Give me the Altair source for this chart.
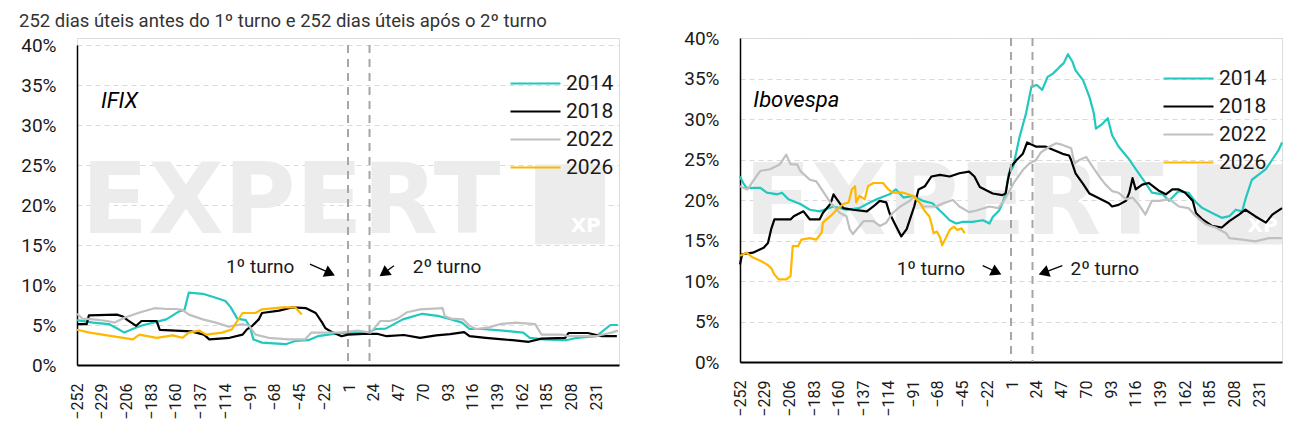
import altair as alt
import pandas as pd

# ---------------- data ----------------
years = ["2014", "2018", "2022", "2026"]
line_colors = ["#20c8be", "#000000", "#c0c0c0", "#ffb700"]
line_widths = [2.2, 2.2, 2.2, 3.5]

x_ticks = [-252, -229, -206, -183, -160, -137, -114, -91, -68, -45, -22,
           1, 24, 47, 70, 93, 116, 139, 162, 185, 208, 231]
y_ticks = [0, 5, 10, 15, 20, 25, 30, 35, 40]
turn_days = [0, 20]

subtitle = "252 dias úteis antes do 1º turno e 252 dias úteis após o 2º turno"

# IFIX
ifix_2014_x = [-252, -237, -230, -222, -215, -208, -197, -190, -181, -169, -157, -152,
               -148, -135, -123, -114, -109, -103, -95, -91, -88, -80, -58, -49,
               -37, -28, -18, -10, 19, 26, 35, 51, 69, 85, 96, 106, 113, 125, 144, 163,
               169, 182, 203, 213, 231, 244, 251]
ifix_2014_y = [5.6, 5.3, 5.2, 5.1, 4.6, 4.05, 4.7, 5.0, 5.3, 5.7, 6.7, 6.9,
               9.05, 8.9, 8.4, 8.0, 7.2, 5.8, 5.6, 4.7, 3.2, 2.8, 2.6, 3.0,
               3.1, 3.6, 3.8, 3.95, 4.1, 4.5, 4.55, 5.7, 6.4, 6.1, 5.7, 5.3, 4.5, 4.5, 4.3, 4.05,
               3.4, 3.2, 3.1, 3.4, 3.6, 5.0, 5.0]

ifix_2018_x = [-252, -243, -241, -215, -210, -205, -197, -192, -178, -175, -146, -134,
               -129, -110, -98, -94, -89, -83, -80, -64, -52, -39, -30, -24,
               -21, -14, -6, 0, 14, 27, 36, 52, 67, 82, 95, 108,
               113, 128, 144, 153, 168, 180, 202, 205, 223, 236, 250]
ifix_2018_y = [5.1, 5.1, 6.2, 6.3, 6.1, 5.6, 4.9, 5.5, 5.5, 4.4, 4.2, 3.8,
               3.2, 3.4, 3.8, 4.45, 4.9, 5.7, 6.5, 6.8, 7.2, 7.1, 6.5, 5.3,
               4.6, 4.05, 3.6, 3.8, 3.9, 3.9, 3.6, 3.75, 3.4, 3.7, 3.85, 4.1,
               3.6, 3.4, 3.2, 3.1, 2.9, 3.3, 3.4, 4.0, 4.0, 3.6, 3.6]

ifix_2022_x = [-252, -247, -237, -224, -217, -208, -193, -180, -168, -160, -154, -148,
               -135, -123, -111, -98, -92, -86, -74, -55, -40, -34, -8, 9,
               21, 30, 39, 46, 55, 67, 88, 90, 96, 107, 113, 119,
               131, 141, 156, 174, 180, 199, 205, 230, 245, 251]
ifix_2022_y = [6.4, 5.8, 5.7, 5.5, 5.3, 5.9, 6.6, 7.1, 7.0, 7.0, 6.9, 6.3,
               5.7, 5.3, 4.8, 5.1, 4.9, 3.8, 3.4, 3.2, 3.2, 4.05, 4.05, 4.3,
               4.05, 5.5, 5.5, 5.8, 6.6, 6.96, 7.1, 6.1, 5.8, 5.7, 4.9, 4.5,
               4.7, 5.1, 5.3, 5.1, 3.8, 3.8, 3.6, 3.6, 4.05, 4.3]

ifix_2026_x = [-252, -240, -224, -209, -200, -194, -178, -163, -154, -148, -138, -132,
               -117, -108, -103, -98, -86, -80, -61, -49, -43]
ifix_2026_y = [4.4, 4.05, 3.7, 3.4, 3.2, 3.8, 3.4, 3.7, 3.4, 4.05, 4.3, 3.8,
               4.05, 4.45, 5.5, 6.5, 6.5, 6.96, 7.2, 7.2, 6.3]

# Ibovespa
ibov_2014_x = [-252, -249, -246, -233, -227, -217, -213, -207, -196, -187,
               -178, -165, -153, -141, -134, -125, -113, -107, -100, -91,
               -82, -73, -70, -63, -57, -51, -45, -36, -26, -20,
               -17, -11, -8, -5, -2, 2, 8, 14, 19, 24,
               29, 34, 39, 45, 49, 53, 57, 60, 67, 73,
               77, 79, 85, 90, 94, 100, 110, 116, 125, 131,
               141, 147, 156, 165, 172, 178, 187, 196, 203, 209,
               215, 218, 224, 230, 237, 243, 249, 252]
ibov_2014_y = [22.9, 22.1, 21.5, 21.5, 20.9, 20.7, 20.9, 20.1, 19.5, 18.8,
               18.6, 19.2, 18.8, 19.0, 19.5, 20.1, 20.7, 21.3, 20.3, 20.5,
               19.9, 19.6, 19.2, 18.3, 17.5, 17.1, 17.3, 17.3, 17.5, 17.1,
               17.9, 18.7, 19.6, 20.8, 23.3, 24.1, 27.8, 30.7, 34.0, 34.2,
               33.6, 35.2, 35.6, 36.4, 36.9, 38.0, 37.1, 36.0, 34.8, 32.7,
               30.7, 28.8, 29.4, 30.1, 28.0, 26.6, 25.0, 23.8, 22.1, 20.9,
               20.7, 19.9, 21.1, 20.9, 19.7, 19.0, 18.4, 17.8, 18.0, 18.8,
               18.6, 20.1, 22.5, 23.1, 23.8, 25.0, 26.2, 27.1]

ibov_2018_x = [-252, -250, -240, -230, -226, -223, -220, -205, -202, -193,
               -187, -178, -175, -168, -165, -162, -156, -147, -134, -128,
               -122, -116, -113, -107, -102, -97, -94, -90, -86, -80,
               -74, -66, -57, -48, -39, -34, -29, -23, -17, -8,
               -5, -3, 0, 5, 11, 15, 23, 32, 39, 48,
               54, 56, 60, 67, 73, 79, 85, 91, 94, 100,
               107, 110, 113, 116, 122, 128, 138, 144, 150, 156,
               162, 169, 172, 178, 187, 196, 203, 212, 218, 227,
               237, 243, 252]
ibov_2018_y = [12.05, 13.3, 13.5, 14.1, 14.7, 16.4, 17.6, 17.6, 18.0, 18.6,
               17.6, 17.6, 18.4, 19.5, 20.7, 20.1, 19.0, 18.8, 18.6, 19.2,
               19.9, 19.7, 18.4, 16.8, 15.5, 16.4, 17.6, 19.2, 21.3, 21.7,
               22.9, 23.1, 22.9, 23.3, 23.5, 22.9, 21.6, 21.2, 20.8, 20.6,
               20.8, 22.4, 24.1, 24.9, 25.7, 27.1, 26.6, 26.6, 26.2, 25.7,
               25.5, 24.9, 23.3, 22.0, 20.8, 20.4, 20.0, 19.6, 19.2, 19.4,
               19.9, 20.9, 22.7, 21.3, 21.9, 22.1, 21.1, 20.7, 21.3, 21.3,
               20.9, 19.9, 18.4, 17.6, 16.8, 16.6, 17.4, 18.2, 18.8, 18.0,
               17.2, 18.2, 19.0]

ibov_2022_x = [-252, -245, -238, -233, -224, -215, -209, -205, -199, -196,
               -187, -181, -175, -168, -159, -153, -150, -147, -137, -128,
               -122, -116, -110, -103, -94, -90, -82, -70, -63, -54,
               -48, -39, -32, -20, -12, -6, -1, 3, 11, 17,
               23, 28, 36, 42, 48, 56, 59, 63, 70, 76,
               82, 88, 94, 100, 107, 113, 119, 125, 131, 138,
               147, 156, 165, 172, 181, 190, 200, 203, 215, 227,
               240, 252]
ibov_2022_y = [21.7, 21.3, 22.7, 23.6, 23.8, 24.4, 25.6, 24.4, 24.4, 23.6,
               22.5, 22.3, 21.1, 19.7, 18.4, 18.0, 16.4, 15.8, 17.4, 17.4,
               16.8, 17.2, 18.4, 19.2, 19.9, 20.5, 19.2, 19.2, 19.6, 20.0,
               19.2, 18.5, 18.7, 19.2, 19.0, 20.0, 21.2, 22.2, 23.7, 24.5,
               24.9, 25.9, 26.6, 27.0, 26.8, 26.4, 24.5, 24.9, 25.3, 24.1,
               22.9, 21.9, 21.1, 20.9, 20.1, 20.3, 19.4, 18.2, 19.9, 19.9,
               20.1, 19.2, 19.0, 18.0, 17.0, 16.6, 15.9, 15.3, 15.1, 14.9,
               15.3, 15.3]

ibov_2026_x = [-252, -246, -240, -233, -227, -223, -220, -216, -209, -205,
               -203, -198, -195, -187, -181, -176, -175, -168, -162, -156,
               -151, -148, -145, -144, -141, -136, -133, -128, -119, -114,
               -110, -100, -91, -85, -80, -76, -74, -72, -69, -66,
               -64, -61, -57, -53, -50, -46, -43]
ibov_2026_y = [13.1, 13.5, 12.9, 12.5, 12.05, 11.6, 10.8, 10.2, 10.2, 10.6,
               14.3, 14.3, 15.1, 15.3, 15.1, 16.0, 17.2, 18.0, 18.8, 19.5,
               19.7, 21.3, 21.7, 19.7, 20.5, 20.1, 21.7, 22.1, 22.1, 21.3,
               20.9, 20.9, 20.5, 19.7, 18.6, 18.0, 17.1, 15.9, 16.1, 15.4,
               14.4, 15.2, 16.3, 16.7, 16.3, 16.5, 15.9]

FONT = "Roboto"
WM = "#ececec"


def series_frame(xs_list, ys_list):
    rows = []
    for yr, xs, ys in zip(years, xs_list, ys_list):
        for a, b in zip(xs, ys):
            rows.append({"year": yr, "x": a, "y": b})
    return pd.DataFrame(rows)


X_SCALE = alt.Scale(domain=[-252, 252], nice=False, zero=False)
X_AXIS = alt.Axis(values=x_ticks, labelAngle=-90, labelFontSize=16, labelFont=FONT,
                  labelColor="#1a1a1a", labelPadding=18, ticks=False, domainColor="#000000",
                  domainWidth=2, grid=False, title=None, labelOverlap=False,
                  labelBound=False, labelFlush=False)
Y_AXIS = alt.Axis(values=y_ticks, labelExpr="datum.value + '%'", labelFontSize=19,
                  labelFont=FONT, labelColor="#1a1a1a", labelPadding=21, ticks=False,
                  domainColor="#000000", domainWidth=1.5, grid=True, gridColor="#d9d9d9",
                  gridDash=[5, 4], gridWidth=1, minExtent=68, maxExtent=68, title=None)


def panel(df, name, name_pos, wm_pos, box, ann, arrows, heads, leg_pos, height, y_range, title):
    y_scale = alt.Scale(domain=[0, 40], nice=False, zero=True, range=y_range)

    def X(field="x"):
        return alt.X(f"{field}:Q", scale=X_SCALE, axis=X_AXIS)

    def Y(field="y"):
        return alt.Y(f"{field}:Q", scale=y_scale, axis=Y_AXIS)

    leg = alt.Legend(title=None, orient="none", legendX=leg_pos[0], legendY=leg_pos[1],
                     symbolType="M-2.5,0H2.5", symbolSize=400, symbolStrokeWidth=2.6,
                     labelFontSize=21, labelFont=FONT, labelColor="#1a1a1a",
                     rowPadding=6, labelOffset=19, padding=0)
    color = alt.Color("year:O", scale=alt.Scale(domain=years, range=line_colors), legend=leg)
    width = alt.StrokeWidth("year:O", scale=alt.Scale(domain=years, range=line_widths), legend=None)

    wm_df = pd.DataFrame({"x": [wm_pos[0]], "y": [wm_pos[1]], "t": ["EXPERT"]})
    box_df = pd.DataFrame({"x": [box[0]], "x2": [box[1]], "y": [box[2]], "y2": [box[3]]})
    xp_df = pd.DataFrame({"x": [box[1] - 4], "y": [box[3] + 1.0], "t": ["XP"]})
    name_df = pd.DataFrame({"x": [name_pos[0]], "y": [name_pos[1]], "t": [name]})
    ann_l = pd.DataFrame({"x": [ann[0][0]], "y": [ann[0][1]], "t": ["1º turno"]})
    ann_r = pd.DataFrame({"x": [ann[1][0]], "y": [ann[1][1]], "t": ["2º turno"]})
    arr_df = pd.DataFrame({"x": [a[0] for a in arrows], "y": [a[1] for a in arrows],
                           "x2": [a[2] for a in arrows], "y2": [a[3] for a in arrows]})
    head_df = pd.DataFrame({"x": [h[0] for h in heads], "y": [h[1] for h in heads],
                            "a": [h[2] for h in heads]})
    rule_df = pd.DataFrame({"x": turn_days, "y": [40, 40], "y2": [0, 0]})

    wm_box = alt.Chart(box_df).mark_rect(color=WM).encode(
        x=X(), x2="x2:Q", y=Y(), y2="y2:Q")
    wm_xp = alt.Chart(xp_df).mark_text(font="DejaVu Sans", fontWeight="bold", fontSize=20,
                                       color="#ffffff", align="right", baseline="bottom").encode(
        x=X(), y=Y(), text="t:N")
    wm_text = alt.Chart(wm_df).mark_text(font="DejaVu Sans", fontWeight="bold", fontSize=98,
                                         color=WM, align="left", baseline="middle").encode(
        x=X(), y=Y(), text="t:N")
    lines = alt.Chart(df).mark_line(strokeJoin="round").encode(
        x=X(), y=Y(), color=color, strokeWidth=width)
    rules = alt.Chart(rule_df).mark_rule(color="#a6a6a6", strokeDash=[8, 6], strokeWidth=2).encode(
        x=X(), y=Y(), y2="y2:Q")
    label = alt.Chart(name_df).mark_text(font=FONT, fontSize=22, fontStyle="italic",
                                         color="#000000", align="left", baseline="alphabetic").encode(
        x=X(), y=Y(), text="t:N")
    t1 = alt.Chart(ann_l).mark_text(font=FONT, fontSize=19, color="#1a1a1a", align="right",
                                    baseline="middle").encode(x=X(), y=Y(), text="t:N")
    t2 = alt.Chart(ann_r).mark_text(font=FONT, fontSize=19, color="#1a1a1a", align="left",
                                    baseline="middle").encode(x=X(), y=Y(), text="t:N")
    shafts = alt.Chart(arr_df).mark_rule(color="#000000", strokeWidth=1.3).encode(
        x=X(), y=Y(), x2="x2:Q", y2="y2:Q")
    tips = alt.Chart(head_df).mark_point(shape="triangle", filled=True, size=150, opacity=1,
                                         color="#000000").encode(
        x=X(), y=Y(), angle=alt.Angle("a:Q", scale=None))

    layered = alt.layer(wm_box, wm_xp, wm_text, lines, rules, label, t1, t2, shafts, tips)
    if title is not None:
        return layered.properties(width=542, height=height, title=title)
    return layered.properties(width=542, height=height)


ifix_df = series_frame([ifix_2014_x, ifix_2018_x, ifix_2022_x, ifix_2026_x],
                       [ifix_2014_y, ifix_2018_y, ifix_2022_y, ifix_2026_y])
ibov_df = series_frame([ibov_2014_x, ibov_2018_x, ibov_2022_x, ibov_2026_x],
                       [ibov_2014_y, ibov_2018_y, ibov_2022_y, ibov_2026_y])

left = panel(
    ifix_df, "IFIX", (-229.7, 32.1), (-248, 20.1), (174, 239, 25.1, 15.1),
    [(-49.8, 12.2), (60.2, 12.2)],
    [(-35.4, 12.6, -16.0, 11.45), (42.7, 12.4, 33.5, 11.5)],
    [(-18.2, 11.56, 114), (34.7, 11.6, 234)],
    (447, 34), 327, [327, 7],
    alt.TitleParams(text=subtitle, anchor="start", fontSize=18.5, font=FONT, fontWeight="normal",
                    color="#333333", offset=6, dx=10),
)
right = panel(
    ibov_df, "Ibovespa", (-239.6, 31.5), (-248, 19.4), (173, 252, 24.4, 14.5),
    [(-42.6, 11.5), (55.3, 11.5)],
    [(-26.3, 11.9, -12.5, 11.05), (47.7, 11.9, 30.0, 11.0)],
    [(-14.9, 11.17, 116), (31.9, 11.1, 250)],
    (437, 29), 324, [324, 0],
    None,
)

chart = alt.hconcat(left, right, spacing=51).resolve_scale(
    color="independent", strokeWidth="independent"
).resolve_legend(
    color="independent", strokeWidth="independent"
).properties(
    padding={"left": 0, "top": 3, "right": 0, "bottom": 0},
    background="#ffffff",
).configure_view(stroke=None).configure(font=FONT)

chart.save("out.html", embed_options={"renderer": "svg", "actions": False})
